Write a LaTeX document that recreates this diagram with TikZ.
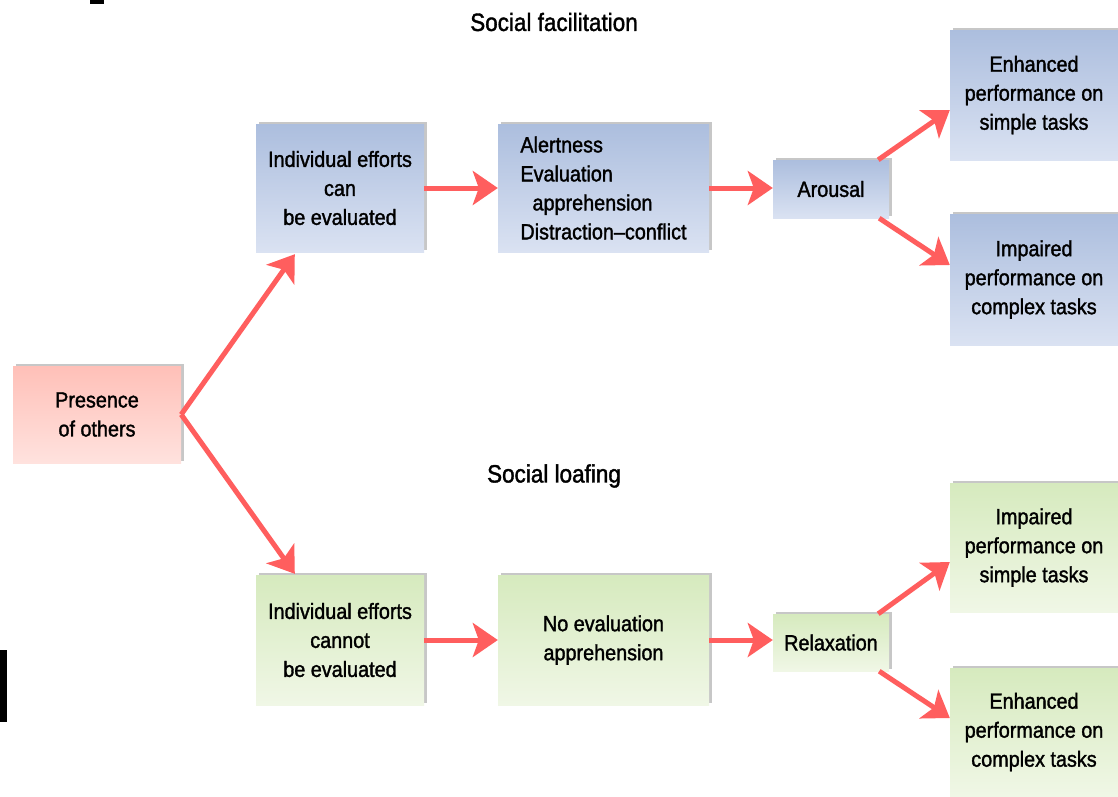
\documentclass[tikz,border=0pt]{standalone}
\usepackage{fontspec}
\setmainfont{Liberation Sans}[FakeStretch=0.9, FakeBold=1.5]
\usetikzlibrary{arrows.meta,shadows}
\definecolor{bluetop}{RGB}{172,190,222}
\definecolor{bluebot}{RGB}{218,226,242}
\definecolor{pinktop}{RGB}{255,192,184}
\definecolor{pinkbot}{RGB}{255,226,222}
\definecolor{greentop}{RGB}{214,234,190}
\definecolor{greenbot}{RGB}{240,247,230}
\definecolor{arrred}{RGB}{255,94,94}
\tikzset{
  box/.style={rectangle, inner sep=0pt, align=center,
    font=\fontsize{22}{29}\selectfont,
    drop shadow={shadow xshift=2.5pt, shadow yshift=2pt, fill=black, opacity=0.22}},
  bluebox/.style={box, top color=bluetop, bottom color=bluebot},
  pinkbox/.style={box, top color=pinktop, bottom color=pinkbot},
  greenbox/.style={box, top color=greentop, bottom color=greenbot},
  titletext/.style={font=\fontsize{25}{30}\selectfont, inner sep=0pt},
  arr/.style={draw=arrred, line width=5pt,
    -{Stealth[length=25pt, width=34pt, inset=6pt]}}
}
\begin{document}
\begin{tikzpicture}[x=1pt, y=-1pt]
\useasboundingbox[fill=white] (0,0) rectangle (1118,796);
% crop artifacts
\fill[black] (0,650) rectangle (7,722);
\fill[black] (90,0) rectangle (104,4);

\node[titletext] (tf) at (554,22) {Social facilitation};
\node[titletext] (tl) at (554,476) {Social loafing};

\node[pinkbox, minimum width=168pt, minimum height=97pt] (pres) at (97,414.5) {Presence\\of others};

\node[bluebox, minimum width=168pt, minimum height=128pt] (ind1) at (340,188) {Individual efforts\\can\\be evaluated};
\node[bluebox, minimum width=211pt, minimum height=128pt, align=left] (alert) at (603.5,188) {Alertness\\Evaluation\\\hspace*{0.55em}apprehension\\Distraction--conflict};
\node[bluebox, minimum width=116pt, minimum height=58pt] (arousal) at (831,189) {Arousal};
\node[bluebox, minimum width=168pt, minimum height=130pt] (enh1) at (1034,95) {Enhanced\\performance on\\simple tasks};
\node[bluebox, minimum width=168pt, minimum height=131pt] (imp1) at (1034,279.5) {Impaired\\performance on\\complex tasks};

\node[greenbox, minimum width=168pt, minimum height=130pt] (ind2) at (340,640) {Individual efforts\\cannot\\be evaluated};
\node[greenbox, minimum width=211pt, minimum height=130pt] (noeval) at (603.5,640) {No evaluation\\apprehension};
\node[greenbox, minimum width=116pt, minimum height=57pt] (relax) at (831,642.5) {Relaxation};
\node[greenbox, minimum width=168pt, minimum height=129pt] (imp2) at (1034,547.5) {Impaired\\performance on\\simple tasks};
\node[greenbox, minimum width=168pt, minimum height=128pt] (enh2) at (1034,732) {Enhanced\\performance on\\complex tasks};

\draw[arr] (pres.east) -- ([xshift=39pt, yshift=-2pt]ind1.south west);
\draw[arr] (pres.east) -- ([xshift=39pt, yshift=1pt]ind2.north west);
\draw[arr] (ind1.east) -- (alert.west);
\draw[arr] (alert.east) -- (alert.east -| arousal.west);
\draw[arr] ([xshift=-11pt]arousal.north east) -- ([yshift=-15pt]enh1.west);
\draw[arr] ([xshift=-10pt]arousal.south east) -- ([yshift=14.5pt]imp1.west);
\draw[arr] (ind2.east) -- (noeval.west);
\draw[arr] (noeval.east) -- (noeval.east -| relax.west);
\draw[arr] ([xshift=-11pt]relax.north east) -- ([yshift=-14.5pt]imp2.west);
\draw[arr] ([xshift=-10pt]relax.south east) -- ([yshift=14pt]enh2.west);
\end{tikzpicture}
\end{document}
